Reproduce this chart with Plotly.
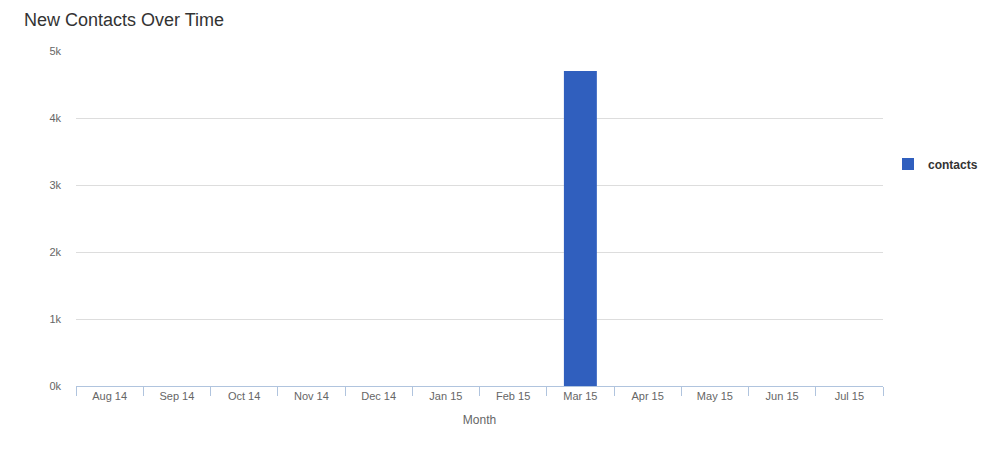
import plotly.graph_objects as go

months = ["Aug 14", "Sep 14", "Oct 14", "Nov 14", "Dec 14", "Jan 15",
          "Feb 15", "Mar 15", "Apr 15", "May 15", "Jun 15", "Jul 15"]
contacts = [0, 0, 0, 0, 0, 0, 0, 4700, 0, 0, 0, 0]
y_tickvals = [0, 1000, 2000, 3000, 4000, 5000]
y_ticktext = ["0k", "1k", "2k", "3k", "4k", "5k"]

# page has an 8px body margin; size figure to fill the rest of the window
OFF = 8
W, H = 986 - OFF, 451 - OFF
L = 76 - OFF
T = 51 - OFF
R = W - (883 - OFF)
B = H - (386 - OFF)

fig = go.Figure()
fig.add_trace(go.Bar(
    x=months, y=contacts, name="<b>contacts</b>",
    marker=dict(color="#305FBE", line=dict(width=0)),
    width=0.49,
))

fig.update_layout(
    width=W, height=H,
    margin=dict(l=L, r=R, t=T, b=B, pad=0, autoexpand=False),
    paper_bgcolor="white", plot_bgcolor="white",
    font=dict(family="Liberation Sans, Arial, sans-serif", color="#666666", size=11),
    title=dict(text="New Contacts Over Time", x=(24 - OFF) / W, xanchor="left",
               y=1 - (20 - OFF) / H, yanchor="middle", xref="container",
               yref="container",
               font=dict(size=18, color="#333333", family="Liberation Sans, Arial, sans-serif")),
    showlegend=True,
    legend=dict(xref="container", yref="container",
                x=(888 - OFF) / W, xanchor="left",
                y=1 - (164 - OFF) / H, yanchor="middle",
                font=dict(size=12, color="#333333"),
                bgcolor="rgba(0,0,0,0)", itemwidth=30),
)

fig.update_xaxes(
    type="category",
    showgrid=False, zeroline=False,
    showline=True, linecolor="#B0C4DE", linewidth=1,
    ticks="outside", tickson="boundaries", ticklen=9, tickcolor="#B0C4DE",
    tickfont=dict(size=11, color="#666666"),
    title=dict(text="Month", font=dict(size=12, color="#666666"), standoff=14),
)
fig.update_yaxes(
    range=[0, 5000], tickvals=y_tickvals, ticktext=y_ticktext,
    showgrid=True, gridcolor="#DDDDDD", gridwidth=1,
    zeroline=False, showline=False, ticks="", ticklabelstandoff=14,
    tickfont=dict(size=11, color="#666666"),
)

fig.write_html("out.html")
